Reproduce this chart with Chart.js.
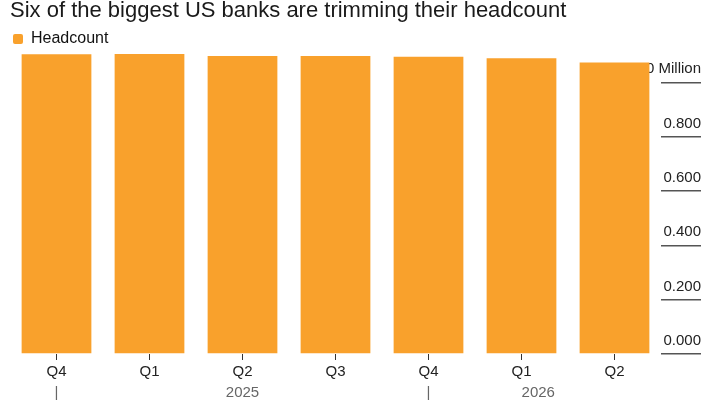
<!DOCTYPE html>
<html>
<head>
<meta charset="utf-8">
<script src="https://cdn.jsdelivr.net/npm/chart.js@4"></script>
<style>
  body { margin: 0; background: #fff; }
  #wrap { width: 720px; height: 405px; }
</style>
</head>
<body>
<div id="wrap"><canvas id="myChart" width="720" height="405"></canvas></div>
<script>
// quarters and headcount (millions)
let quarters = ['Q4', 'Q1', 'Q2', 'Q3', 'Q4', 'Q1', 'Q2'];
let headcount = [1.103, 1.104, 1.097, 1.097, 1.094, 1.088, 1.073];
// second row under the quarters: year labels and separators
let yearLabels = ['|', '2025', '|', '2026'];
let yearAt = [0, 2, 4, 5.18];
let yTicks = [0, 0.2, 0.4, 0.6, 0.8, 1.0];

const font = "'Liberation Sans', Arial, sans-serif";
const orange = '#f9a12c';

let ctx = document.getElementById('myChart').getContext('2d');
let barChart = new Chart(ctx, {
  type: 'bar',
  data: {
    labels: quarters,
    datasets: [{
      label: 'Headcount',
      data: headcount,
      backgroundColor: orange,
      borderWidth: 0,
      clip: false,
      categoryPercentage: 1,
      barPercentage: 0.75
    }]
  },
  options: {
    responsive: false,
    animation: false,
    layout: { padding: { left: 10, right: 19, top: 0, bottom: 3 } },
    plugins: {
      title: {
        display: true,
        text: 'Six of the biggest US banks are trimming their headcount',
        align: 'start',
        color: '#1a1a1a',
        font: { family: font, size: 22, weight: 'normal', lineHeight: 1 },
        padding: { top: 0, bottom: 6 }
      },
      legend: {
        align: 'start',
        labels: {
          boxWidth: 10,
          boxHeight: 10,
          useBorderRadius: true,
          borderRadius: 2,
          padding: 3,
          color: '#111',
          font: { family: font, size: 16, lineHeight: 1 }
        }
      },
      tooltip: { enabled: false }
    },
    scales: {
      x: {
        grid: { drawOnChartArea: false, offset: false, tickLength: 6, color: '#333', lineWidth: 1 },
        border: { display: false },
        ticks: { color: '#222', padding: 3, maxRotation: 0, font: { family: font, size: 15 } }
      },
      years: {
        type: 'linear',
        position: 'bottom',
        offset: false,
        min: -0.5,
        max: quarters.length - 0.5,
        grid: { display: false, drawTicks: false, tickLength: 0 },
        border: { display: false },
        afterBuildTicks: function(scale) {
          scale.ticks = yearAt.map(v => ({ value: v }));
        },
        ticks: {
          autoSkip: false,
          maxRotation: 0,
          padding: 0,
          color: '#666',
          font: { family: font, size: 15 },
          callback: function(value) {
            let i = yearAt.indexOf(value);
            return i >= 0 ? yearLabels[i] : '';
          }
        }
      },
      y: {
        position: 'right',
        min: 0,
        max: 1.093,
        afterBuildTicks: function(scale) {
          scale.ticks = yTicks.map(v => ({ value: v }));
        },
        afterFit: function(scale) { scale.width = 40; },
        grid: { drawOnChartArea: false, tickLength: 40, color: '#555', lineWidth: 1.5 },
        border: { display: false },
        ticks: {
          mirror: true,
          crossAlign: 'near',
          labelOffset: -13,
          padding: 40,
          color: '#222',
          font: { family: font, size: 15 },
          callback: function(value) {
            return value === 1 ? '1.000 Million' : value.toFixed(3);
          }
        }
      }
    }
  }
});
</script>
</body>
</html>
